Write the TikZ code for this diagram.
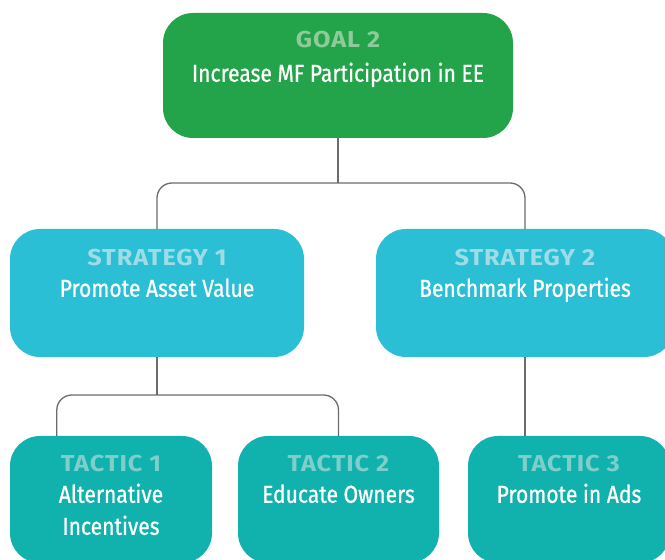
\documentclass[tikz,border=0pt]{standalone}
\usepackage{fontspec}
\setmainfont{Fira Sans}[FakeStretch=0.86,FakeBold=0.8]
\newfontfamily\lblfont{Fira Sans}[FakeStretch=1.1,LetterSpace=4]
\usetikzlibrary{calc}
\definecolor{goalc}{HTML}{23A44A}
\definecolor{goall}{HTML}{8FCB9A}
\definecolor{stratc}{HTML}{2ABFD5}
\definecolor{stratl}{HTML}{A0DCE6}
\definecolor{tacc}{HTML}{11B1AE}
\definecolor{tacl}{HTML}{7ECFCB}
\definecolor{linec}{HTML}{6A6C71}
\begin{document}
\begin{tikzpicture}[x=1pt,y=1pt,
  box/.style={rounded corners=30pt, inner sep=0pt, draw=none},
  goalbox/.style={box, fill=goalc},
  stratbox/.style={box, fill=stratc, minimum height=128pt},
  tacbox/.style={box, fill=tacc, minimum height=127pt},
  lbl/.style={anchor=base, inner sep=0pt, font=\lblfont\bfseries\fontsize{23}{26}\selectfont},
  maintxt/.style={anchor=base, inner sep=0pt, text=white, font=\fontsize{24.5}{32}\selectfont},
  conn/.style={draw=linec, line width=1.3pt, rounded corners=15pt}]
\useasboundingbox (0,0) rectangle (665,560);
% boxes
\node[goalbox, minimum width=350pt, minimum height=125pt] (g) at (338,484.5) {};
\node[stratbox, minimum width=294pt] (s1) at (157,267) {};
\node[stratbox, minimum width=298pt] (s2) at (525,267) {};
\node[tacbox, minimum width=202pt] (t1) at (111,60.5) {};
\node[tacbox, minimum width=201pt] (t2) at (338.5,60.5) {};
\node[tacbox, minimum width=202pt] (t3) at (569,60.5) {};
% connectors
\coordinate (j1) at (339,377);
\coordinate (j2) at (157,165);
\coordinate (t1top) at ($(t1.north west)+(47,0)$);
\coordinate (t3top) at (s2.south |- t3.north);
\draw[conn] (g.south) -- (g.south |- j1);
\draw[conn] (s1.north) |- (j1) -| (s2.north);
\draw[conn] (s1.south) -- (s1.south |- j2);
\draw[conn] (t1top) |- (j2) -| (t2.north);
\draw[conn] (s2.south) -- (t3top);
% texts
\node[lbl, text=goall] (gl) at ($(g.north)+(0,-35)$) {GOAL 2};
\node[maintxt] (gm) at ($(g.north)+(0,-69)$) {Increase MF Participation in EE};
\node[lbl, text=stratl] (s1l) at ($(s1.north)+(0,-37)$) {STRATEGY 1};
\node[maintxt] (s1m) at ($(s1.north)+(0,-68)$) {Promote Asset Value};
\node[lbl, text=stratl] (s2l) at ($(s2.north)+(0,-37)$) {STRATEGY 2};
\node[maintxt] (s2m) at ($(s2.north)+(0,-68)$) {Benchmark Properties};
\node[lbl, text=tacl] (t1l) at ($(t1.north)+(0,-36)$) {TACTIC 1};
\node[maintxt] (t1m) at ($(t1.north)+(0,-67)$) {Alternative};
\node[maintxt] (t1n) at ($(t1.north)+(0,-99)$) {Incentives};
\node[lbl, text=tacl] (t2l) at ($(t2.north)+(0,-36)$) {TACTIC 2};
\node[maintxt] (t2m) at ($(t2.north)+(0,-67)$) {Educate Owners};
\node[lbl, text=tacl] (t3l) at ($(t3.north)+(0,-36)$) {TACTIC 3};
\node[maintxt] (t3m) at ($(t3.north)+(0,-67)$) {Promote in Ads};
\end{tikzpicture}
\end{document}
